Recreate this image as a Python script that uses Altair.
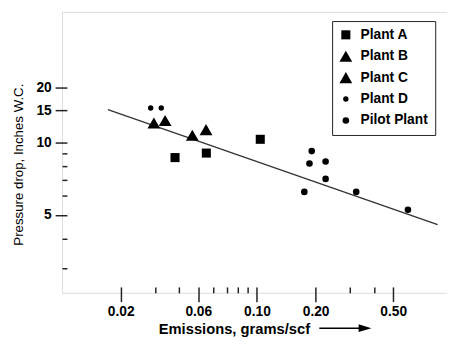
import json
import altair as alt
import pandas as pd

# ---- data ----
series = ["Plant A", "Plant B", "Plant C", "Plant D", "Pilot Plant"]
plant_a_x = [0.038, 0.055, 0.104]
plant_a_y = [8.64, 9.02, 10.38]
plant_b_x = [0.0296, 0.0338]
plant_b_y = [12.76, 13.16]
plant_c_x = [0.0466, 0.0548]
plant_c_y = [10.93, 11.73]
plant_d_x = [0.0285, 0.0323]
plant_d_y = [15.4, 15.4]
pilot_x = [0.191, 0.186, 0.225, 0.225, 0.175, 0.323, 0.595]
pilot_y = [9.19, 8.17, 8.32, 7.05, 6.23, 6.23, 5.25]
fit_x = [0.0172, 0.845]
fit_y = [15.1, 4.56]

x_major = [0.02, 0.05, 0.1, 0.2, 0.5]
x_major_labels = ["0.02", "0.06", "0.10", "0.20", "0.50"]
x_minor = [0.03, 0.04, 0.06, 0.07, 0.08, 0.09, 0.3, 0.4]
y_major = [5, 10, 15, 20]
y_minor = [3, 4, 6, 7, 8, 9]

shapes = ["square", "triangle-up", "triangle-up", "circle", "circle"]
sizes = [85, 170, 170, 30, 45]

FONT = "Liberation Sans"

rows = []
for name, xs, ys in [
    ("Plant A", plant_a_x, plant_a_y),
    ("Plant B", plant_b_x, plant_b_y),
    ("Plant C", plant_c_x, plant_c_y),
    ("Plant D", plant_d_x, plant_d_y),
    ("Pilot Plant", pilot_x, pilot_y),
]:
    for a, b in zip(xs, ys):
        rows.append({"series": name, "x": a, "y": b})
pts = pd.DataFrame(rows)
fit = pd.DataFrame({"x": fit_x, "y": fit_y})

xscale = alt.Scale(type="log", domain=[0.01, 0.944], nice=False)
yscale = alt.Scale(type="log", domain=[2.38, 5, 10, 20, 51.7],
                   range=[286, 206.7, 132.7, 76.7, 0], nice=False)

xm = json.dumps(x_major)
x_label_expr = (f"indexof({xm}, datum.value) >= 0 ? "
                f"{json.dumps(x_major_labels)}[indexof({xm}, datum.value)] : ''")
ym = json.dumps(y_major)
y_label_expr = f"indexof({ym}, datum.value) >= 0 ? datum.label : ''"

xaxis = alt.Axis(
    values=x_major + x_minor,
    offset=-6,
    tickSize={"condition": {"test": f"indexof({xm}, datum.value) >= 0", "value": 15}, "value": 6},
    labelExpr=x_label_expr,
    labelFont=FONT, labelFontSize=14, labelFontWeight="bold", labelColor="black",
    labelPadding=3, labelOverlap=False, labelFlush=False,
    tickColor="#222", tickWidth=1.5, domain=False, grid=False,
    title="Emissions, grams/scf", titleFont=FONT, titleFontSize=15,
    titleFontWeight="bold", titleColor="black",
    titleX=175, titleY=42, titleAlign="center", titleBaseline="middle",
)
yaxis = alt.Axis(
    values=y_major + y_minor,
    offset=-5,
    tickSize={"condition": {"test": f"indexof({ym}, datum.value) >= 0", "value": 12}, "value": 5},
    labelExpr=y_label_expr,
    labelFont=FONT, labelFontSize=14, labelFontWeight="bold", labelColor="black",
    labelPadding=4, labelOverlap=False, labelFlush=False,
    tickColor="#222", tickWidth=1.5, domain=False, grid=False,
    title="Pressure drop, Inches W.C.", titleFont=FONT, titleFontSize=13.5,
    titleFontWeight="normal", titleColor="black",
    titleX=-49.7, titleY=155, titleAlign="center", titleBaseline="middle",
)

line = alt.Chart(fit).mark_line(color="#333", strokeWidth=1.3).encode(
    x=alt.X("x:Q", scale=xscale, axis=xaxis),
    y=alt.Y("y:Q", scale=yscale, axis=yaxis),
)

legend = alt.Legend(
    orient="none", legendX=275, legendY=9.3, title=None,
    padding=7, strokeColor="#222", fillColor="white",
    labelFont=FONT, labelFontSize=14, labelFontWeight="bold", labelColor="black",
    labelOffset=8, rowPadding=7.8, symbolFillColor="black", symbolStrokeWidth=0,
    symbolOpacity=1,
)

points = alt.Chart(pts).mark_point(filled=True, color="black", opacity=1, strokeWidth=0).encode(
    x=alt.X("x:Q", scale=xscale),
    y=alt.Y("y:Q", scale=yscale),
    shape=alt.Shape("series:N", scale=alt.Scale(domain=series, range=shapes), legend=legend),
    size=alt.Size("series:N", scale=alt.Scale(type="ordinal", domain=series, range=sizes), legend=legend),
)

one = alt.Data(values=[{"k": 1}])
arrow_line = alt.Chart(one).mark_rule(color="black", strokeWidth=1.5).encode(
    x=alt.value(262), x2=alt.value(305), y=alt.value(322)
)
arrow_head = alt.Chart(one).mark_point(
    shape="M-1,-0.6L1,0L-1,0.6Z", filled=True, color="black", opacity=1, size=169, strokeWidth=0
).encode(x=alt.value(308.5), y=alt.value(322))

chart = alt.layer(line, points, arrow_line, arrow_head).properties(
    width=392, height=286,
    autosize=alt.AutoSizeParams(type="none"),
    padding={"left": 55, "top": 1, "right": 0, "bottom": 43},
).configure_view(stroke="#222", strokeWidth=1.5).configure(background="white")

chart.save("out.html", embed_options={"renderer": "svg", "actions": False})
